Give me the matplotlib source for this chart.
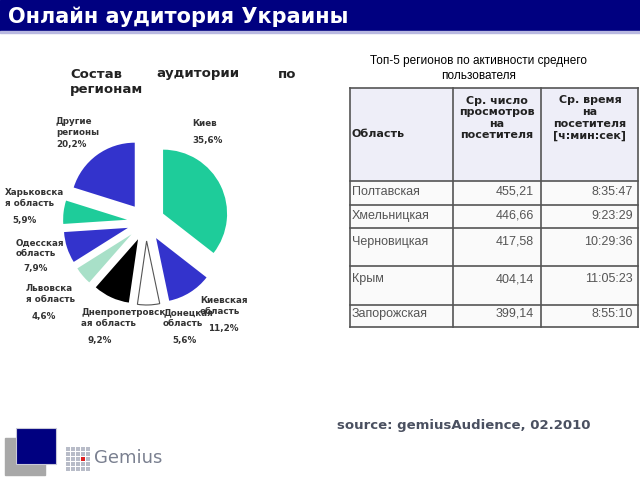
import matplotlib.pyplot as plt
from matplotlib.patches import Rectangle

# --- данные ---
regions = ["Киев", "Киевская\nобласть", "Донецкая\nобласть", "Днепропетровск\nая область",
           "Львовска\nя область", "Одесская\nобласть", "Харьковска\nя область", "Другие\nрегионы"]
shares = [35.6, 11.2, 5.6, 9.2, 4.6, 7.9, 5.9, 20.2]
colors = ["#1ECC9A", "#3333CC", "#FFFFFF", "#000000", "#A8E0C8", "#3333CC", "#1ECC9A", "#3333CC"]

tab_regions = ["Полтавская", "Хмельницкая", "Черновицкая", "Крым", "Запорожская"]
tab_views = ["455,21", "446,66", "417,58", "404,14", "399,14"]
tab_time = ["8:35:47", "9:23:29", "10:29:36", "11:05:23", "8:55:10"]

H = 480
def Y(y):
    return H - y

fig = plt.figure(figsize=(6.4, 4.8), dpi=100)
ax = fig.add_axes([0, 0, 1, 1])

# заголовок
ax.add_patch(Rectangle((0, Y(31)), 640, 31, color="#000080"))
ax.add_patch(Rectangle((0, Y(33)), 640, 2, color="#B8B8E0"))
ax.text(8, Y(17), "Онлайн аудитория Украины", color="white", fontsize=15,
        fontweight="bold", va="center", ha="left")

# подзаголовок пирога
for word, x, ha in [("Состав", 70, "left"), ("аудитории", 198, "center"), ("по", 296, "right")]:
    ax.text(x, Y(74), word, fontsize=9.5, fontweight="bold", color="#222222", ha=ha, va="center")
ax.text(70, Y(89), "регионам", fontsize=9.5, fontweight="bold", color="#222222", ha="left", va="center")

# пирог
wedges, _ = ax.pie(shares, colors=colors, startangle=90, counterclock=False,
                   explode=[19] * len(shares), radius=64, center=(146, Y(222)))
wedges[2].set_edgecolor("#555555")
wedges[2].set_linewidth(0.8)

name_pos = [(192, 123), (200, 306), (163, 318), (81, 318), (26, 294), (16, 248), (5, 198), (56, 127)]
pct_pos = [(192, 140), (208, 328), (172, 340), (88, 340), (32, 316), (23, 269), (12, 220), (56, 144)]
for name, s, (nx, ny), (px, py) in zip(regions, shares, name_pos, pct_pos):
    ax.text(nx, Y(ny), name, fontsize=6.3, fontweight="bold", color="#333333",
            ha="left", va="center", linespacing=1.15)
    ax.text(px, Y(py), f"{s:.1f}%".replace(".", ","), fontsize=6.3, fontweight="bold",
            color="#333333", ha="left", va="center")

# таблица
ax.text(479, Y(61), "Топ-5 регионов по активности среднего", fontsize=8.5,
        family="Liberation Sans", ha="center", va="center")
ax.text(479, Y(76), "пользователя", fontsize=8.5, family="Liberation Sans", ha="center", va="center")

cols = [350, 453, 541, 638]
rows = [88, 181, 205, 228, 266, 305, 327]
ax.add_patch(Rectangle((cols[0], Y(rows[1])), cols[3] - cols[0], rows[1] - rows[0],
                       facecolor="#EEEEF8", edgecolor="none"))
ax.add_patch(Rectangle((cols[0], Y(rows[-1])), cols[3] - cols[0], rows[-1] - rows[1],
                       facecolor="#FAFAFA", edgecolor="none"))
for r in rows:
    ax.plot([cols[0], cols[3]], [Y(r), Y(r)], color="#555555", lw=1.2)
for c in cols:
    ax.plot([c, c], [Y(rows[0]), Y(rows[-1])], color="#555555", lw=1.2)

ax.text(352, Y(134), "Область", fontsize=8, fontweight="bold", color="#222222", ha="left", va="center")
ax.text(497, Y(118), "Ср. число\nпросмотров\nна\nпосетителя", fontsize=8, fontweight="bold",
        color="#222222", ha="center", va="center", linespacing=1.2)
ax.text(590, Y(118), "Ср. время\nна\nпосетителя\n[ч:мин:сек]", fontsize=8, fontweight="bold",
        color="#222222", ha="center", va="center", linespacing=1.2)

text_y = [192, 216, 242, 279, 314]
for reg, v, t, ty in zip(tab_regions, tab_views, tab_time, text_y):
    ax.text(352, Y(ty), reg, fontsize=9, family="Liberation Sans", color="#555555", ha="left", va="center")
    ax.text(534, Y(ty), v, fontsize=9, family="Liberation Sans", color="#555555", ha="right", va="center")
    ax.text(633, Y(ty), t, fontsize=9, family="Liberation Sans", color="#555555", ha="right", va="center")

# источник
ax.text(337, Y(425), "source: gemiusAudience, 02.2010", fontsize=9.5, fontweight="bold",
        color="#4A5060", ha="left", va="center")

# логотип
ax.add_patch(Rectangle((5, Y(475)), 40, 37, color="#A8A8A8"))
ax.add_patch(Rectangle((16, Y(464)), 40, 36, facecolor="#000080", edgecolor="#C8C8D8", lw=0.8))
for i in range(5):
    for j in range(5):
        c = "#DD2222" if (i, j) == (3, 2) else "#B8BCC8"
        ax.add_patch(Rectangle((66 + i * 5, Y(451 + j * 5)), 4, 4, color=c, lw=0))
ax.text(94, Y(458), "Gemius", fontsize=13, color="#7A8090", ha="left", va="center")

ax.set_xlim(0, 640)
ax.set_ylim(0, H)
ax.set_aspect("auto")
ax.axis("off")

fig.savefig("out.png", dpi=100)
